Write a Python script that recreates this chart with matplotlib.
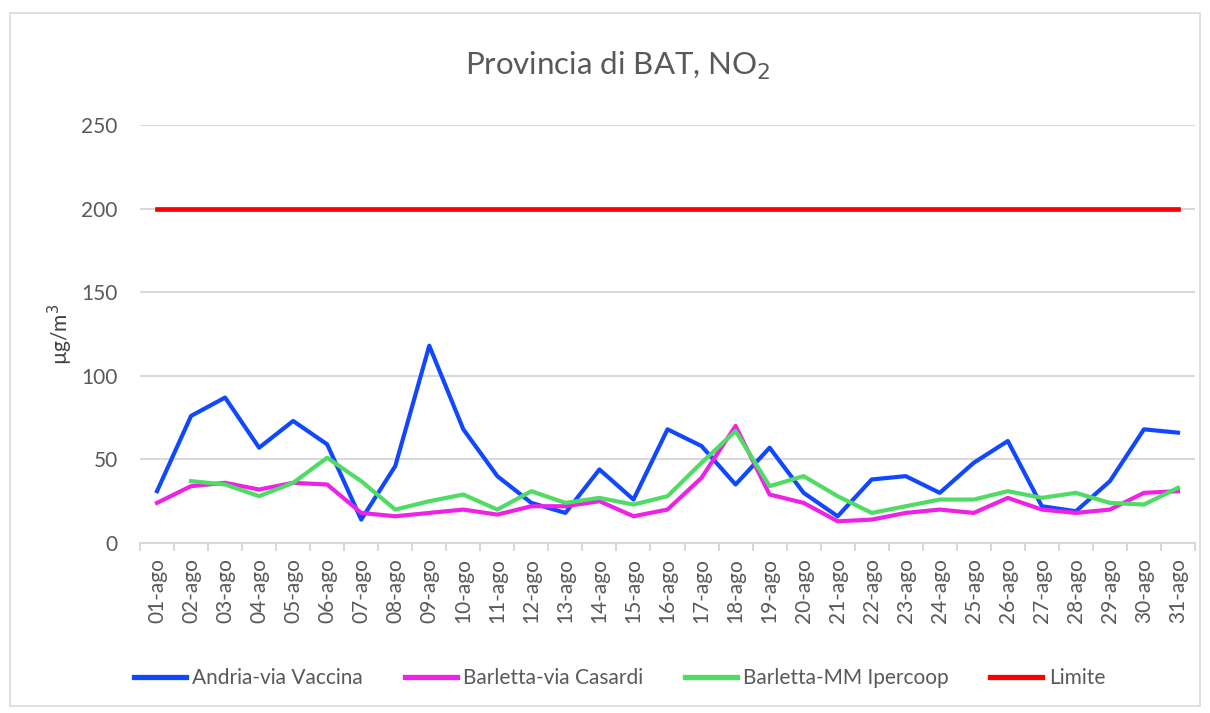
import matplotlib
matplotlib.use("Agg")
import matplotlib.pyplot as plt
from matplotlib.patches import Rectangle

days = [f"{d:02d}-ago" for d in range(1, 32)]
andria = [31, 76, 87, 57, 73, 59, 14, 46, 118, 68, 40, 24, 18, 44, 26, 68, 58, 35, 57, 30,
          16, 38, 40, 30, 48, 61, 22, 19, 37, 68, 66]
casardi = [24, 34, 36, 32, 36, 35, 18, 16, 18, 20, 17, 22, 22, 25, 16, 20, 39, 70, 29, 24,
           13, 14, 18, 20, 18, 27, 20, 18, 20, 30, 31]
ipercoop = [None, 37, 35, 28, 36, 51, 37, 20, 25, 29, 20, 31, 24, 27, 23, 28, 48, 67, 34, 40,
            28, 18, 22, 26, 26, 31, 27, 30, 24, 23, 33]
limite = [200] * 31
yticks = [0, 50, 100, 150, 200, 250]

plt.rcParams['font.family'] = ['Lato', 'DejaVu Sans']

fig = plt.figure(figsize=(12.1, 7.13), dpi=100)
ax = fig.add_axes([0.1157, 0.2384, 0.8719, 0.5863])

x = list(range(len(days)))
ip_x = [i for i, v in zip(x, ipercoop) if v is not None]
ip_y = [v for v in ipercoop if v is not None]

ax.plot(x, andria, color='#1148ff', lw=3.0, label='Andria-via Vaccina', solid_joinstyle='round')
ax.plot(x, casardi, color='#ee22e6', lw=3.0, label='Barletta-via Casardi', solid_joinstyle='round')
ax.plot(ip_x, ip_y, color='#4fdb64', lw=3.0, label='Barletta-MM Ipercoop', solid_joinstyle='round')
ax.plot(x, limite, color='#ff0000', lw=3.4, label='Limite')

ax.set_xlim(-0.5, len(days) - 0.5)
ax.set_ylim(0, 250)
ax.set_yticks(yticks)
ax.set_yticklabels([str(t) for t in yticks], fontsize=15, color='#595959')
ax.grid(axis='y', color='#d9d9d9', lw=1.5)
ax.set_axisbelow(True)
ax.tick_params(axis='y', length=0, pad=16)

ax.set_xticks(x)
ax.set_xticklabels(days, rotation=90, fontsize=15, color='#595959')
ax.set_xticks([i - 0.5 for i in range(len(days) + 1)], minor=True)
ax.tick_params(axis='x', which='major', length=0, pad=11)
ax.tick_params(axis='x', which='minor', length=6, color='#d9d9d9', width=1.5)

for s in ['top', 'right', 'left']:
    ax.spines[s].set_visible(False)
ax.spines['bottom'].set_color('#d9d9d9')
ax.spines['bottom'].set_linewidth(1.5)

ax.set_ylabel('µg/m$^3$', fontsize=15, color='#404040')
ax.yaxis.set_label_coords(-0.062, 0.5)
fig.text(0.511, 0.908, 'Provincia di BAT, NO$_2$', fontsize=22.5, color='#595959',
         ha='center', va='center')

leg = fig.legend(loc='center', bbox_to_anchor=(0.512, 0.049), ncol=4, frameon=False,
                 fontsize=15, handlelength=2.5, columnspacing=2.0, handletextpad=0.3)
for t in leg.get_texts():
    t.set_color('#595959')
for h in leg.get_lines():
    h.set_linewidth(3.8)

fig.patches.append(Rectangle((0.008, 0.01), 0.984, 0.972, transform=fig.transFigure,
                             fill=False, edgecolor='#d9d9d9', lw=1.2))

fig.savefig('out.png', dpi=100)
